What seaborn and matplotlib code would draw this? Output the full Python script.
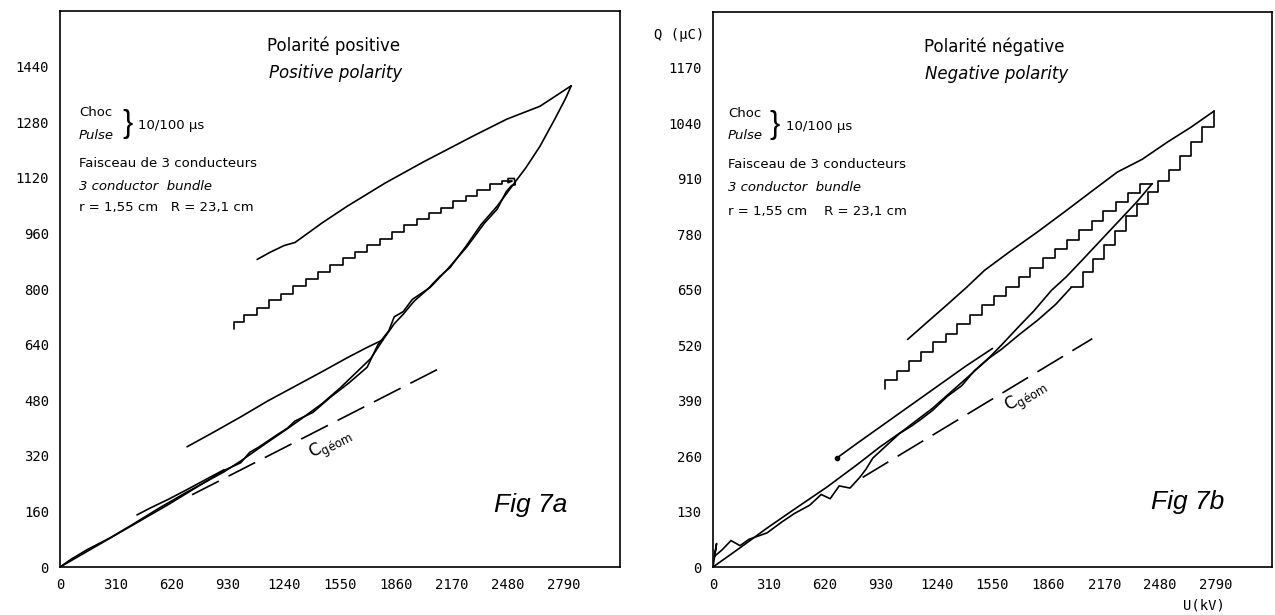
import matplotlib
matplotlib.use("Agg")
import matplotlib.pyplot as plt
import seaborn as sns

# ---------------------------------------------------------------- data
# axis ticks
u_ticks = [0, 310, 620, 930, 1240, 1550, 1860, 2170, 2480, 2790]
q_ticks_a = [0, 160, 320, 480, 640, 800, 960, 1120, 1280, 1440]
q_ticks_b = [0, 130, 260, 390, 520, 650, 780, 910, 1040, 1170]

# Fig 7a - positive polarity
a_rise_U = [0, 60, 150, 277, 400, 550, 700, 908, 1000, 1129, 1250, 1329, 1450, 1550,
            1650, 1720, 1788, 1850, 1899, 1960, 2032, 2100, 2159, 2250, 2330, 2419,
            2508, 2580, 2657, 2740, 2800, 2830]
a_rise_Q = [0, 22, 50, 84, 122, 170, 215, 274, 305, 352, 395, 424, 470, 515,
            565, 600, 654, 700, 727, 765, 798, 835, 862, 925, 985, 1038,
            1100, 1150, 1211, 1290, 1350, 1385]
a_rise2_U = [0, 100, 300, 600, 908, 1000, 1050, 1100, 1200, 1260, 1300, 1400, 1500, 1600,
             1700, 1760, 1820, 1850, 1900, 1950, 2050, 2150, 2250, 2350, 2420, 2470,
             2500, 2520, 2515, 2480, 2480, 2500]
a_rise2_Q = [0, 30, 90, 180, 278, 300, 330, 345, 380, 400, 420, 445, 490, 530,
             575, 640, 680, 720, 735, 770, 805, 860, 920, 990, 1030, 1080,
             1098, 1100, 1118, 1118, 1106, 1110]
a_top_U = [2830, 2657, 2474, 2286, 2009, 1800, 1589, 1450, 1301, 1240, 1160, 1091]
a_top_Q = [1385, 1326, 1289, 1240, 1165, 1105, 1038, 990, 934, 925, 905, 885]
a_mid_U = [2500, 2448, 2380, 2310, 2245, 2175, 2110, 2040, 1975, 1905, 1840, 1770,
           1700, 1635, 1565, 1495, 1430, 1360, 1290, 1225, 1155, 1090, 1020, 963]
a_mid_Q = [1110, 1103, 1086, 1068, 1052, 1034, 1018, 1001, 983, 963, 945, 926,
           907, 889, 869, 849, 830, 808, 787, 767, 745, 725, 704, 686]
a_low_U = [1788, 1700, 1589, 1450, 1300, 1150, 1000, 850, 703]
a_low_Q = [654, 632, 602, 562, 520, 478, 432, 388, 346]
a_short_U = [908, 800, 700, 600, 500, 426]
a_short_Q = [280, 250, 222, 195, 170, 150]
a_geom_U = [731, 2087]
a_geom_Q = [208, 568]

# Fig 7b - negative polarity
b_rise_U = [0, 150, 299, 450, 631, 800, 925, 1050, 1218, 1400, 1533, 1600, 1700, 1800,
            1900, 1987]
b_rise_Q = [0, 45, 91, 135, 187, 240, 281, 318, 372, 440, 490, 510, 545, 578,
            615, 655]
b_stair_U = [1987, 2050, 2110, 2170, 2230, 2290, 2350, 2410, 2470, 2530, 2590, 2650,
             2710, 2779]
b_stair_Q = [655, 690, 722, 755, 788, 822, 850, 878, 905, 930, 962, 995,
             1030, 1068]
b_rise2_U = [0, 20, 8, 50, 100, 150, 200, 300, 380, 450, 537, 600, 650, 700, 760, 814,
             850, 886, 950, 1035, 1100, 1150, 1218, 1300, 1380, 1450, 1533, 1600,
             1700, 1780, 1877, 1960, 2050, 2150, 2250, 2350, 2436]
b_rise2_Q = [0, 55, 25, 40, 62, 50, 65, 80, 105, 125, 145, 170, 160, 190, 185, 210,
             230, 255, 280, 313, 330, 345, 367, 400, 425, 460, 491, 520,
             565, 600, 648, 680, 720, 765, 810, 855, 898]
b_top_U = [2779, 2650, 2519, 2380, 2242, 2100, 1950, 1800, 1650, 1506, 1406, 1300, 1200, 1079]
b_top_Q = [1068, 1030, 995, 955, 925, 880, 832, 785, 740, 695, 655, 615, 578, 533]
b_mid_U = [2436, 2370, 2300, 2235, 2165, 2100, 2030, 1965, 1895, 1830, 1760, 1695,
           1625, 1560, 1490, 1425, 1355, 1290, 1220, 1155, 1085, 1020, 952]
b_mid_Q = [898, 877, 854, 833, 810, 789, 766, 745, 723, 701, 679, 657,
           635, 614, 591, 570, 547, 526, 503, 482, 459, 438, 416]
b_low_U = [1550, 1400, 1250, 1100, 950, 800, 686]
b_low_Q = [512, 470, 425, 380, 335, 290, 255]
b_geom_U = [830, 2104]
b_geom_Q = [210, 535]

# ---------------------------------------------------------------- style
sns.set_style("white")
plt.rcParams['font.family'] = ['DejaVu Sans']
plt.rcParams['text.color'] = 'black'
plt.rcParams['xtick.color'] = 'black'
plt.rcParams['ytick.color'] = 'black'

fig = plt.figure(figsize=(12.75, 6.15), dpi=100)
ax1 = fig.add_axes([0.0471, 0.078, 0.4392, 0.9041])
ax2 = fig.add_axes([0.5592, 0.078, 0.4384, 0.9024])

line_kw = dict(color='black', lw=1.2, sort=False, estimator=None)
dash = (0, (18, 6.5))


def setup(ax, qmax, qticks):
    ax.set_xlim(0, 3100)
    ax.set_ylim(0, qmax)
    ax.set_xticks(u_ticks)
    ax.set_yticks(qticks)
    ax.set_xticklabels([str(v) for v in u_ticks], family='DejaVu Sans Mono', fontsize=10)
    ax.set_yticklabels([str(v) for v in qticks], family='DejaVu Sans Mono', fontsize=10)
    ax.tick_params(direction='inout', length=12, width=1, pad=2, colors='black')
    for s in ax.spines.values():
        s.set_color('black')
        s.set_linewidth(1.2)
    ax.set_xlabel('')
    ax.set_ylabel('')


def notes(ax, title_fr, title_en, x_title, x_left, x_brace):
    tr = ax.transAxes
    ax.text(x_title, 0.937, title_fr, transform=tr, ha='center', va='center', fontsize=12)
    ax.text(x_title + 0.004, 0.889, title_en, transform=tr, ha='center', va='center',
            fontsize=12, style='italic')
    ax.text(x_left, 0.818, 'Choc', transform=tr, ha='left', va='center', fontsize=9.5)
    ax.text(x_left, 0.777, 'Pulse', transform=tr, ha='left', va='center', fontsize=9.5,
            style='italic')
    ax.text(x_brace, 0.797, '}', transform=tr, ha='center', va='center', fontsize=22,
            family='Liberation Sans')
    ax.text(x_brace + 0.02, 0.794, '10/100 μs', transform=tr, ha='left', va='center',
            fontsize=9.5)
    ax.text(x_left, 0.726, 'Faisceau de 3 conducteurs', transform=tr, ha='left',
            va='center', fontsize=9.5)
    ax.text(x_left, 0.684, '3 conductor  bundle', transform=tr, ha='left', va='center',
            fontsize=9.5, style='italic')


# ---------------------------------------------------------------- Fig 7a
sns.lineplot(x=a_rise_U, y=a_rise_Q, ax=ax1, **line_kw)
sns.lineplot(x=a_rise2_U, y=a_rise2_Q, ax=ax1, **line_kw)
sns.lineplot(x=a_top_U, y=a_top_Q, ax=ax1, **line_kw)
sns.lineplot(x=a_mid_U, y=a_mid_Q, ax=ax1, drawstyle='steps-post', **line_kw)
sns.lineplot(x=a_low_U, y=a_low_Q, ax=ax1, **line_kw)
sns.lineplot(x=a_short_U, y=a_short_Q, ax=ax1, **line_kw)
sns.lineplot(x=a_geom_U, y=a_geom_Q, ax=ax1, linestyle=dash, **line_kw)
setup(ax1, 1600, q_ticks_a)
notes(ax1, 'Polarité positive', 'Positive polarity', 0.489, 0.034, 0.12)
ax1.text(0.034, 0.647, 'r = 1,55 cm   R = 23,1 cm', transform=ax1.transAxes,
         ha='left', va='center', fontsize=9.5)
ax1.text(0.484, 0.219, 'C$_{\\mathregular{géom}}$', transform=ax1.transAxes,
         ha='center', va='center', fontsize=12, rotation=27)
ax1.text(0.841, 0.112, 'Fig 7a', transform=ax1.transAxes, ha='center', va='center',
         fontsize=19, style='italic', family='Liberation Sans')

# ---------------------------------------------------------------- Fig 7b
sns.lineplot(x=b_rise_U, y=b_rise_Q, ax=ax2, **line_kw)
sns.lineplot(x=b_stair_U, y=b_stair_Q, ax=ax2, drawstyle='steps-post', **line_kw)
sns.lineplot(x=b_rise2_U, y=b_rise2_Q, ax=ax2, **line_kw)
sns.lineplot(x=b_top_U, y=b_top_Q, ax=ax2, **line_kw)
sns.lineplot(x=b_mid_U, y=b_mid_Q, ax=ax2, drawstyle='steps-post', **line_kw)
sns.lineplot(x=b_low_U, y=b_low_Q, ax=ax2, **line_kw)
ax2.plot(b_low_U[-1], b_low_Q[-1], 'o', color='black', ms=3)
sns.lineplot(x=b_geom_U, y=b_geom_Q, ax=ax2, linestyle=dash, **line_kw)
setup(ax2, 1300, q_ticks_b)
notes(ax2, 'Polarité négative', 'Negative polarity', 0.504, 0.027, 0.111)
ax2.text(0.027, 0.640, 'r = 1,55 cm    R = 23,1 cm', transform=ax2.transAxes,
         ha='left', va='center', fontsize=9.5)
ax2.text(0.562, 0.306, 'C$_{\\mathregular{géom}}$', transform=ax2.transAxes,
         ha='center', va='center', fontsize=12, rotation=31)
ax2.text(0.850, 0.117, 'Fig 7b', transform=ax2.transAxes, ha='center', va='center',
         fontsize=19, style='italic', family='Liberation Sans')

fig.text(0.533, 0.943, 'Q (μC)', ha='center', va='center', fontsize=10,
         family='DejaVu Sans Mono')
fig.text(0.944, 0.016, 'U(kV)', ha='center', va='center', fontsize=10,
         family='DejaVu Sans Mono')

fig.savefig('out.png', dpi=100, facecolor='white')
